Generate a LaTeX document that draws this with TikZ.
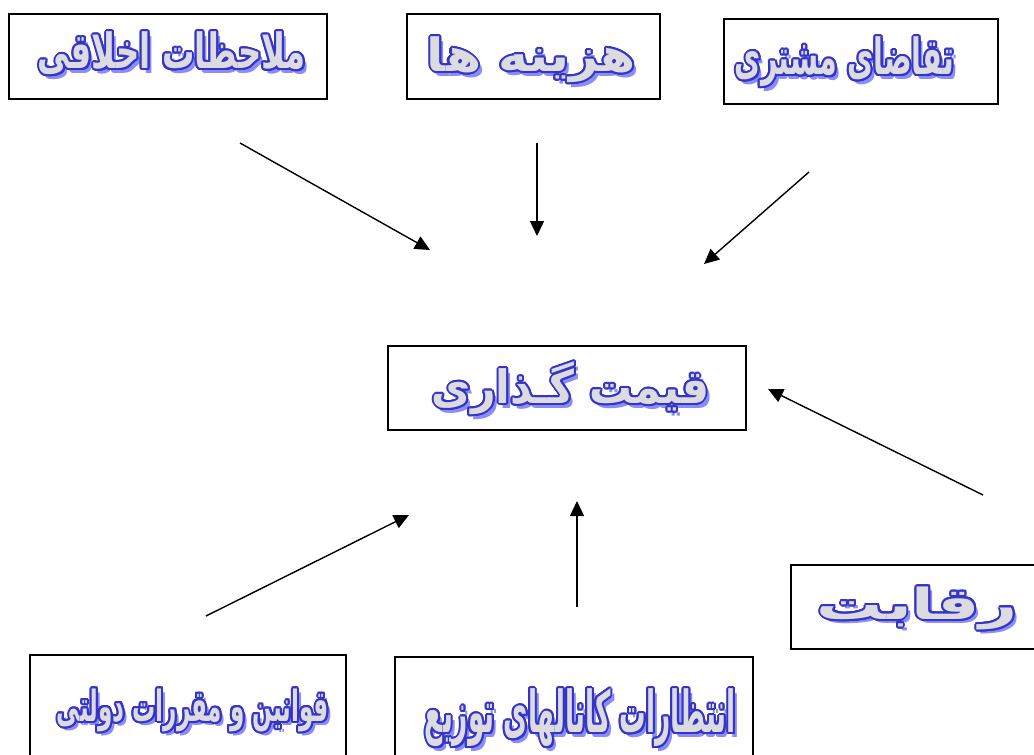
\documentclass[tikz,border=0pt]{standalone}
\usepackage{fontspec}
\usepackage{graphicx}
\usetikzlibrary{arrows.meta}
\TeXXeTstate=1
\newfontfamily\fa[Script=Arabic]{DejaVu Sans}

\definecolor{waedge}{HTML}{3434C8}
\definecolor{wafill}{HTML}{DCDCE0}
\definecolor{washadow}{HTML}{8C8CF8}

% outlined, shadowed display text: #1 width, #2 total height, #3 text
\newcommand\waoff[2]{\rlap{\kern#1\raisebox{#2}{\copy0}}}
\newcommand\waring{%
  \waoff{2pt}{0pt}\waoff{-2pt}{0pt}\waoff{0pt}{2pt}\waoff{0pt}{-2pt}%
  \waoff{1.41pt}{1.41pt}\waoff{-1.41pt}{1.41pt}\waoff{1.41pt}{-1.41pt}\waoff{-1.41pt}{-1.41pt}%
  \waoff{1.85pt}{0.77pt}\waoff{-1.85pt}{0.77pt}\waoff{1.85pt}{-0.77pt}\waoff{-1.85pt}{-0.77pt}%
  \waoff{0.77pt}{1.85pt}\waoff{-0.77pt}{1.85pt}\waoff{0.77pt}{-1.85pt}\waoff{-0.77pt}{-1.85pt}}
\newcommand\wa[3]{%
  \setbox0=\hbox{\resizebox*{#1}{#2}{\hbox{\fa\bfseries #3}}}%
  \hbox{%
    \rlap{\kern4pt\raisebox{-4.5pt}{\color{washadow}\copy0}}%
    {\color{waedge}\waring}%
    {\color{wafill}\copy0}}}

\tikzset{
  frame/.style={draw=black, line width=1.6pt, fill=white, inner sep=0pt},
  label/.style={inner sep=0pt},
  link/.style={line width=1.4pt, -{Triangle[length=15pt,width=14pt]}},
}

\begin{document}
\begin{tikzpicture}[x=1pt,y=-1pt]
  \useasboundingbox (0,0) rectangle (1034,755);
  \clip (0,0) rectangle (1034,755);
  \fill[white] (0,0) rectangle (1034,755);

  % boxes
  \node[frame, minimum width=318pt, minimum height=85pt] (b1) at (168,56.5) {};
  \node[frame, minimum width=253pt, minimum height=85pt] (b2) at (533.5,56.5) {};
  \node[frame, minimum width=274pt, minimum height=85pt] (b3) at (861,61.5) {};
  \node[frame, minimum width=358pt, minimum height=84pt] (bc) at (567,388) {};
  \node[frame, minimum width=256pt, minimum height=84pt] (b5) at (919,607) {};
  \node[frame, minimum width=316pt, minimum height=115pt] (b6) at (188,712.5) {};
  \node[frame, minimum width=358pt, minimum height=113pt] (b7) at (574,713.5) {};

  % texts
  \node[label] (t1) at (172,54.5) {\wa{268pt}{43pt}{\beginR ملاحظات اخلاقی\endR}};
  \node[label] (t2) at (531.5,61) {\wa{209pt}{46pt}{\beginR هزینه ها\endR}};
  \node[label] (t3) at (844.5,63) {\wa{219pt}{50pt}{\beginR تقاضای مشتری\endR}};
  \node[label] (tc) at (570.5,389.5) {\wa{277pt}{53pt}{\beginR قیمت گـذاری\endR}};
  \node[label] (t5) at (917.5,609.5) {\wa{201pt}{43pt}{\beginR رقابت\endR}};
  \node[label] (t6) at (193,711.5) {\wa{272pt}{43pt}{\beginR قوانین و مقررات دولتی\endR}};
  \node[label] (t7) at (580.5,719) {\wa{311pt}{58pt}{\beginR انتظارات کانالهای توزیع\endR}};

  % arrow ends
  \coordinate (a1s) at (240,143);  \coordinate (a1e) at (430,250);
  \coordinate (a2s) at (537,143);  \coordinate (a2e) at (537,236);
  \coordinate (a3s) at (809,172);  \coordinate (a3e) at (704,264);
  \coordinate (a4s) at (983,495);  \coordinate (a4e) at (768,389);
  \coordinate (a5s) at (577,607);  \coordinate (a5e) at (577,501);
  \coordinate (a6s) at (206,616);  \coordinate (a6e) at (409,515);

  \draw[link] (a1s) -- (a1e);
  \draw[link] (a2s) -- (a2e);
  \draw[link] (a3s) -- (a3e);
  \draw[link] (a4s) -- (a4e);
  \draw[link] (a5s) -- (a5e);
  \draw[link] (a6s) -- (a6e);
\end{tikzpicture}
\end{document}
